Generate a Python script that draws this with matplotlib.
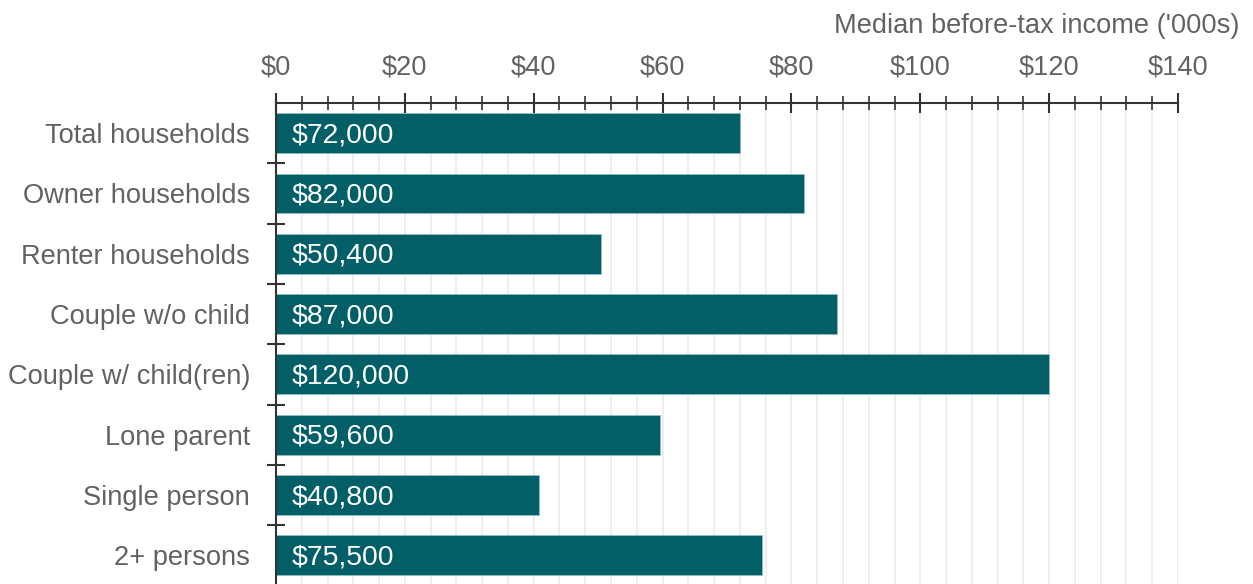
import matplotlib.pyplot as plt
from matplotlib.ticker import MultipleLocator, FixedLocator, NullFormatter

# Median before-tax income by household type, in $'000s
categories = ['Total households', 'Owner households', 'Renter households',
              'Couple w/o child', 'Couple w/ child(ren)', 'Lone parent',
              'Single person', '2+ persons']
income = [72.0, 82.0, 50.4, 87.0, 120.0, 59.6, 40.8, 75.5]
x_ticks = [0, 20, 40, 60, 80, 100, 120, 140]

bar_color = '#035f67'
text_color = '#626262'
axis_color = '#333333'
fs = 19.6

plt.rcParams['font.family'] = ['Liberation Sans', 'DejaVu Sans']

fig = plt.figure(figsize=(12.53, 5.84), dpi=100)
ax = fig.add_axes([276 / 1253, -0.0024, 902 / 1253, 1 - 103 / 584 + 0.0024])

pos = list(range(len(categories)))
ax.barh(pos, income, height=0.66, color=bar_color, edgecolor='#8fbfc2',
        linewidth=0.6, zorder=2)

for p, v in zip(pos, income):
    ax.annotate(f'${v * 1000:,.0f}', xy=(0, p), xytext=(11, -1.5),
                textcoords='offset points', va='center', ha='left',
                color='white', fontsize=20.4, zorder=3)

ax.set_xlim(0, 140)
ax.set_ylim(len(categories) - 0.5, -0.5)

# x axis on top
ax.xaxis.set_ticks_position('top')
ax.xaxis.set_label_position('top')
ax.set_xticks(x_ticks)
ax.set_xticklabels([f'${t}' for t in x_ticks])
ax.xaxis.set_minor_locator(MultipleLocator(4))
ax.tick_params(axis='x', which='major', direction='inout', length=13.7,
               width=1.5, color=axis_color, pad=9.5, labelsize=fs,
               labelcolor=text_color)
ax.tick_params(axis='x', which='minor', direction='inout', length=9.4,
               width=1.2, color=axis_color)
ax.grid(axis='x', which='both', color='#eeeeee', linewidth=1.5, zorder=0)

# y axis: ticks at row boundaries, labels at row centres
ax.yaxis.set_major_locator(FixedLocator([p + 0.5 for p in pos[:-1]]))
ax.yaxis.set_major_formatter(NullFormatter())
ax.yaxis.set_minor_locator(FixedLocator(pos))
ax.set_yticklabels(categories, minor=True)
ax.tick_params(axis='y', which='major', direction='inout', length=13,
               width=1.5, color=axis_color)
ax.tick_params(axis='y', which='minor', length=0, pad=18.7, labelsize=fs,
               labelcolor=text_color)

for side in ['right', 'bottom']:
    ax.spines[side].set_visible(False)
for side in ['top', 'left']:
    ax.spines[side].set_color(axis_color)
    ax.spines[side].set_linewidth(1.5)
ax.set_axisbelow(True)

fig.text(1240 / 1253, 1 - 33 / 584, "Median before-tax income ('000s)",
         ha='right', va='baseline', fontsize=fs, color=text_color)

fig.savefig('out.png', dpi=100)
